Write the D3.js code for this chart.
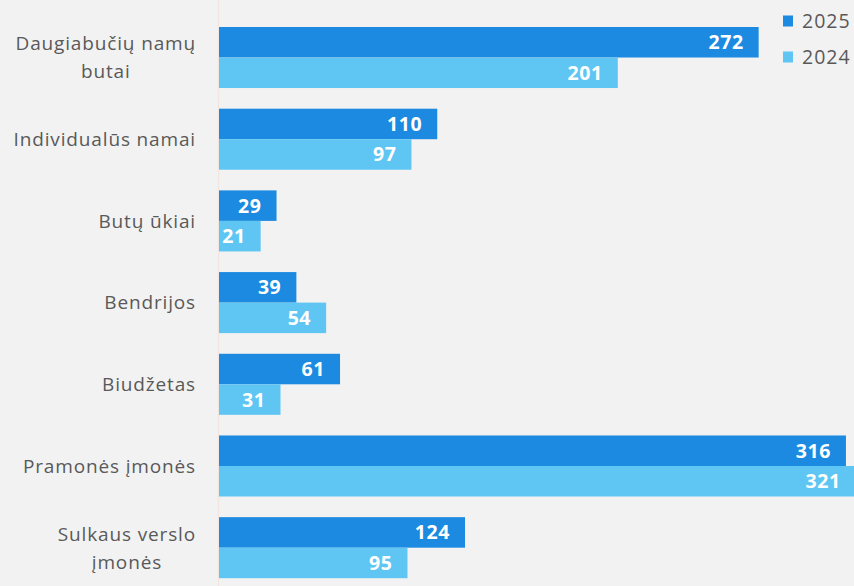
<!DOCTYPE html>
<html>
<head>
<meta charset="utf-8">
<script src="https://cdn.jsdelivr.net/npm/d3@7"></script>
<style>
  html, body { margin: 0; padding: 0; background: #f2f2f2; overflow: hidden; }
  svg { display: block; }
  text { font-family: "Open Sans", "Noto Sans", sans-serif; }
</style>
</head>
<body>
<svg id="chart" width="854" height="586"></svg>
<script>
const categories = [
  ["Daugiabučių namų", "butai"],
  ["Individualūs namai"],
  ["Butų ūkiai"],
  ["Bendrijos"],
  ["Biudžetas"],
  ["Pramonės įmonės"],
  ["Sulkaus verslo", "įmonės"]
];
const seriesNames = ["2025", "2024"];
const values2025 = [272, 110, 29, 39, 61, 316, 124];
const values2024 = [201, 97, 21, 54, 31, 321, 95];
const colors = ["#1b8ae0", "#5fc6f3"];

const svg = d3.select("#chart");
const W = 854, H = 586;
svg.append("rect").attr("width", W).attr("height", H).attr("fill", "#f2f2f2");

const keys = categories.map((c, i) => i);
const y = d3.scaleBand().domain(keys).range([16.65, 588.55]).paddingInner(0.253).paddingOuter(0.1267);
const ySub = d3.scaleBand().domain(seriesNames).range([0, y.bandwidth()]);
const x = d3.scaleLinear().domain([0, 321]).range([219, 219 + 321 * 1.984]);

const data = seriesNames.map((s, si) => ({ name: s, values: si === 0 ? values2025 : values2024 }));

// axis line
svg.append("line").attr("x1", 218.5).attr("x2", 218.5).attr("y1", 0).attr("y2", H)
  .attr("stroke", "#f3e6e0").attr("stroke-width", 1.5);

const groups = svg.selectAll("g.grp").data(keys).join("g")
  .attr("class", "grp").attr("transform", d => `translate(0,${y(d)})`);

data.forEach((s, si) => {
  groups.append("rect")
    .attr("x", x(0))
    .attr("y", ySub(s.name))
    .attr("width", d => x(s.values[d]) - x(0))
    .attr("height", ySub.bandwidth())
    .attr("fill", colors[si]);
  groups.append("text")
    .attr("x", d => x(s.values[d]) - 15)
    .attr("y", ySub(s.name) + ySub.bandwidth() / 2)
    .attr("dy", "0.36em")
    .attr("text-anchor", "end")
    .attr("fill", "#ffffff")
    .attr("font-weight", "bold")
    .attr("font-size", 19.5)
    .attr("letter-spacing", 0.6)
    .text(d => s.values[d]);
});

// category labels
const labelRight = 196;
const lineH = 28;
keys.forEach(i => {
  const lines = categories[i];
  const cy = y(i) + y.bandwidth() / 2;
  const g = svg.append("g");
  const texts = lines.map((l, li) => g.append("text")
    .attr("font-size", 19).attr("fill", "#595959")
    .attr("letter-spacing", 0.85)
    .attr("y", cy + (li - (lines.length - 1) / 2) * lineH)
    .attr("dy", "0.36em")
    .attr("text-anchor", "start")
    .text(l));
  const widths = texts.map(t => t.node().getComputedTextLength());
  const maxW = d3.max(widths);
  texts.forEach((t, k) => t.attr("x", labelRight - maxW / 2 - widths[k] / 2));
});

// legend
const leg = svg.append("g");
seriesNames.forEach((s, si) => {
  const ly = 21 + si * 36;
  leg.append("rect").attr("x", 783).attr("y", ly - 5.5).attr("width", 10).attr("height", 11).attr("fill", colors[si]);
  leg.append("text").attr("x", 802).attr("y", ly).attr("dy", "0.36em")
    .attr("font-size", 19.5).attr("letter-spacing", 1).attr("fill", "#595959").text(s);
});
</script>
</body>
</html>
